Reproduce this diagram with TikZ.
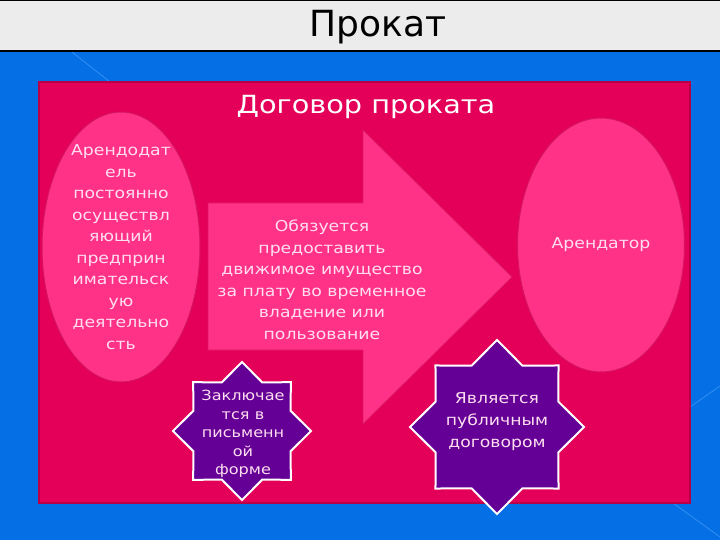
\documentclass[tikz,border=0pt]{standalone}
\usepackage{fontspec}
\setmainfont{DejaVu Sans}[FakeStretch=1.15]
\newfontfamily\titlefont{DejaVu Sans}
\usetikzlibrary{shapes.geometric}
\definecolor{bluebg}{RGB}{5,112,230}
\definecolor{bluelight}{RGB}{60,150,245}
\definecolor{titlegray}{RGB}{236,236,236}
\definecolor{pinkbg}{RGB}{228,0,88}
\definecolor{pinkedge}{RGB}{185,0,70}
\definecolor{pinklight}{RGB}{255,50,135}
\definecolor{purplefill}{RGB}{100,0,150}
\definecolor{textpink}{RGB}{255,222,240}
\tikzset{
  oval/.style={ellipse, fill=pinklight, draw=pinkedge!60!pinklight, line width=1pt, inner sep=0pt},
  starbox/.style={star, star points=8, star point ratio=1.31, fill=purplefill,
    draw=white, line width=2pt, inner sep=0pt},
  txt/.style={text=textpink, align=center, inner sep=0pt, font=\fontsize{15}{21.5}\selectfont},
}
\begin{document}
\begin{tikzpicture}[x=1pt, y=-1pt]
  \useasboundingbox (0,0) rectangle (720,540);
  % background and title bar
  \fill[bluebg] (0,52) rectangle (720,540);
  \draw[bluelight, line width=0.6pt] (72,52) -- (110,82) (690,407) -- (720,386) (673,503) -- (720,537);
  \fill[titlegray] (0,0) rectangle (720,52);
  \draw[black, line width=1.5pt] (0,0.75) -- (720,0.75) (0,51) -- (720,51);
  \node[font=\titlefont\fontsize{36}{40}\selectfont, text=black] (title) at (378,27) {Прокат};
  % main panel
  \draw[fill=pinkbg, draw=pinkedge, line width=1.5pt] (39,82) rectangle (690,503);
  \node[font=\fontsize{25}{28}\selectfont, text=white] (heading) at (366,107) {Договор проката};
  % arrow
  \draw[fill=pinklight, draw=pinkedge!50!pinklight, line width=0.8pt]
    (208,203) -- (363,203) -- (363,130) -- (512,277) -- (363,424) -- (363,350) -- (208,350) -- cycle;
  \node[txt] (duty) at (322,280) {Обязуется\\предоставить\\движимое имущество\\за плату во временное\\владение или\\пользование};
  % parties
  \node[oval, minimum width=158pt, minimum height=270pt] (lessor) at (121,247) {};
  \node[txt] (lessorText) at (lessor.center) {Арендодат\\ель\\постоянно\\осуществл\\яющий\\предприн\\имательск\\ую\\деятельно\\сть};
  \node[oval, minimum width=167pt, minimum height=254pt] (lessee) at (601,245) {};
  \node[txt] (lesseeText) at (lessee.center) {Арендатор};
  % stars
  \node[starbox, minimum size=138pt] (written) at (242,431) {};
  \node[txt, font=\fontsize{14}{18.5}\selectfont] (writtenText) at (243,434) {Заключае\\тся в\\письменн\\ой\\форме};
  \node[starbox, minimum size=174pt] (public) at (497,427) {};
  \node[txt, font=\fontsize{15}{22}\selectfont] (publicText) at (497,422) {Является\\публичным\\договором};
\end{tikzpicture}
\end{document}
